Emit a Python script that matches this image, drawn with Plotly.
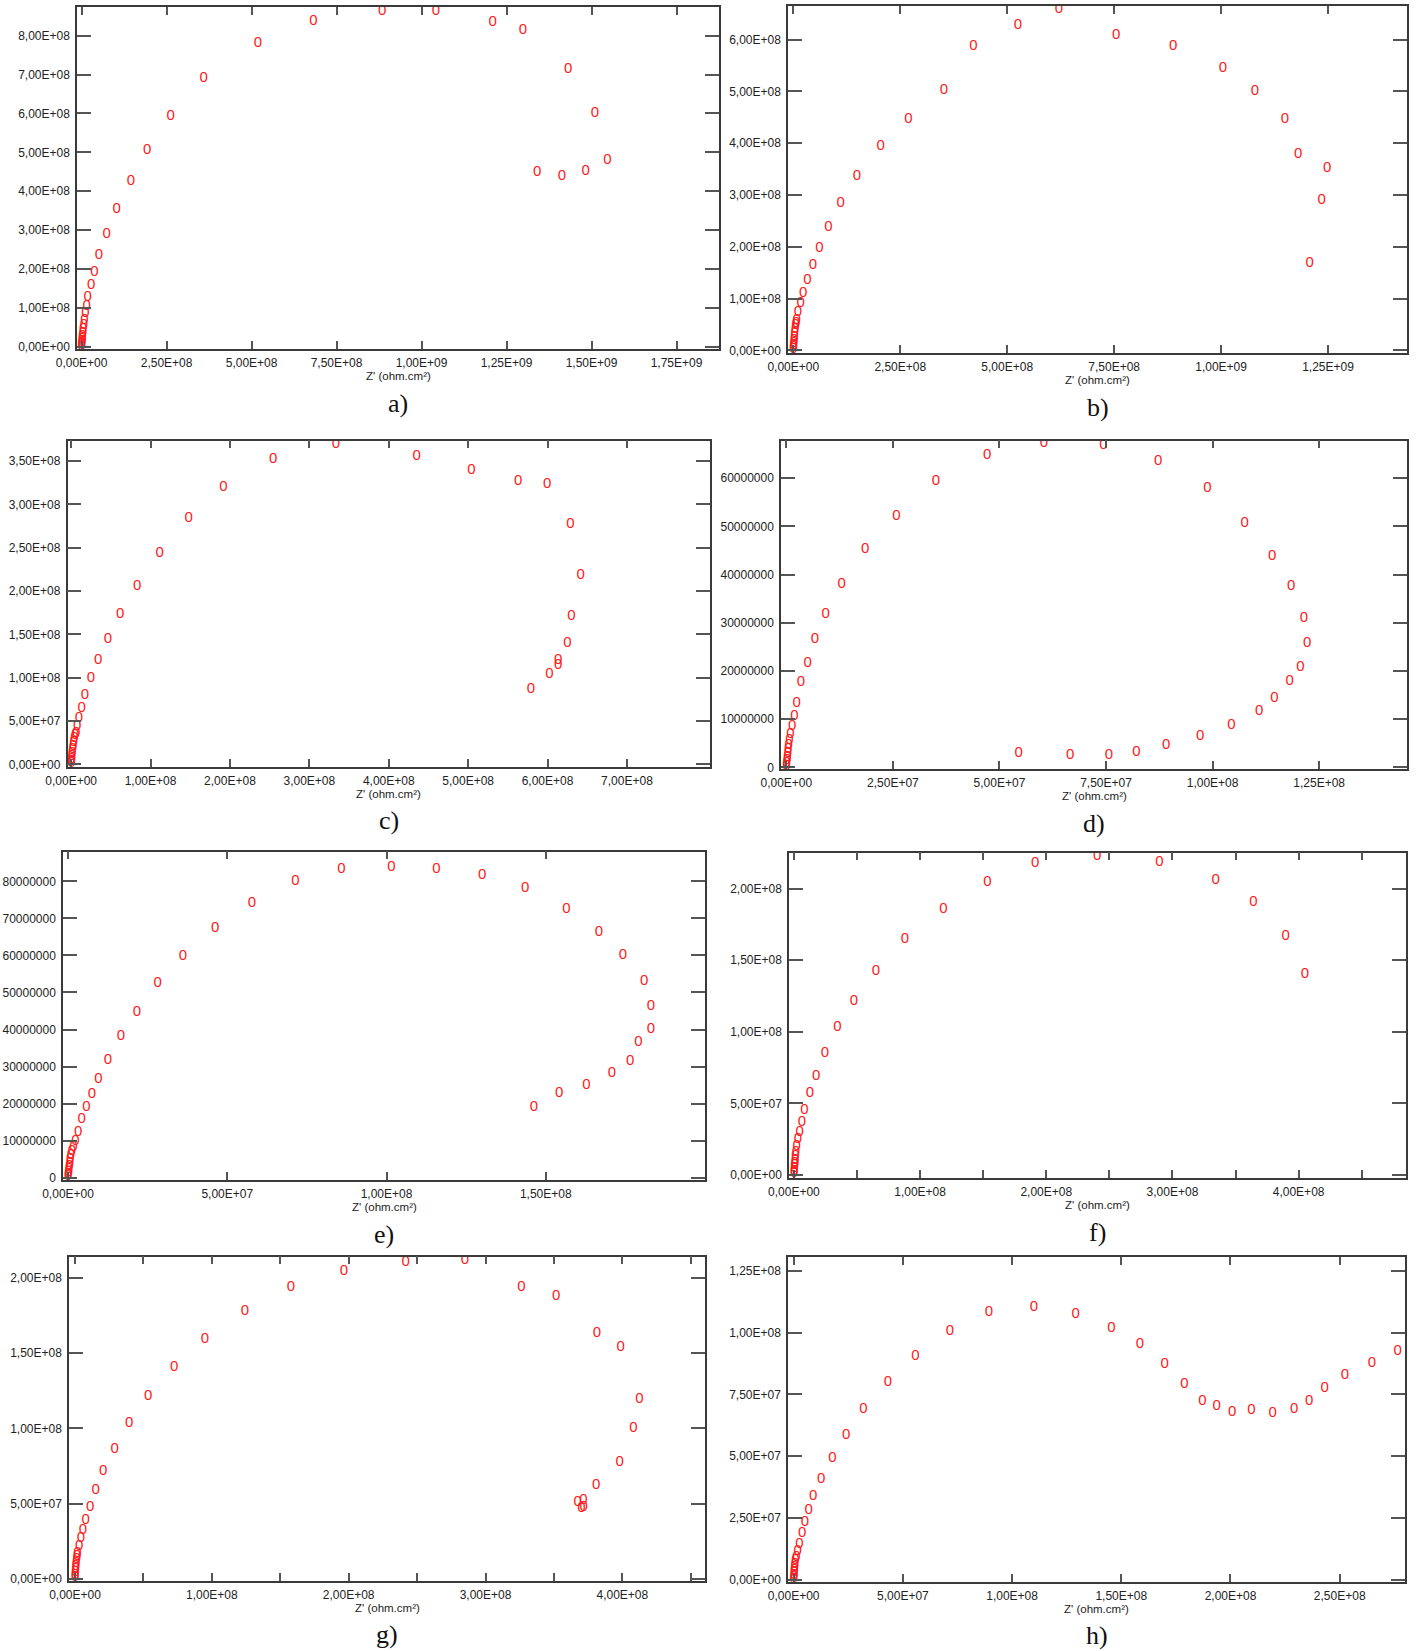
import plotly.graph_objects as go

# ---------------- data (Z' , -Z'') per panel ----------------
a_x = [2e5, 5e5, 9e5, 1.4e6, 2e6, 2.8e6, 3.8e6, 5e6, 6.5e6, 8.5e6, 1.1e7,
       1.5e7, 1.8e7, 2.8e7, 3.8e7, 5.1e7, 7.4e7, 1.03e8, 1.45e8, 1.93e8, 2.62e8, 3.59e8,
       5.19e8, 6.82e8, 8.84e8, 1.042e9, 1.209e9, 1.298e9, 1.431e9, 1.51e9, 1.547e9,
       1.483e9, 1.413e9, 1.34e9]
a_y = [2e6, 5e6, 9e6, 1.4e7, 2e7, 2.7e7, 3.5e7, 4.4e7, 5.5e7, 6.8e7, 8.5e7,
       1.05e8, 1.28e8, 1.57e8, 1.92e8, 2.36e8, 2.89e8, 3.53e8, 4.26e8, 5.06e8, 5.93e8, 6.9e8,
       7.8e8, 8.37e8, 8.62e8, 8.64e8, 8.34e8, 8.15e8, 7.14e8, 6.0e8, 4.79e8,
       4.52e8, 4.39e8, 4.49e8]

b_x = [2e5, 5e5, 9e5, 1.3e6, 1.8e6, 2.5e6, 3.3e6, 4.2e6, 5.3e6, 6.5e6,
       8e6, 1.1e7, 1.7e7, 2.3e7, 3.3e7, 4.6e7, 6.1e7, 8.2e7, 1.11e8, 1.49e8, 2.04e8,
       2.69e8, 3.52e8, 4.21e8, 5.25e8, 6.21e8, 7.55e8, 8.88e8, 1.004e9, 1.079e9,
       1.149e9, 1.18e9, 1.248e9, 1.235e9, 1.207e9]
b_y = [2e6, 5e6, 9e6, 1.4e7, 2e7, 2.6e7, 3.3e7, 4e7, 4.8e7, 5.3e7,
       5.9e7, 7.4e7, 9.0e7, 1.11e8, 1.35e8, 1.64e8, 1.98e8, 2.38e8, 2.85e8, 3.37e8, 3.95e8,
       4.46e8, 5.02e8, 5.88e8, 6.27e8, 6.585e8, 6.08e8, 5.88e8, 5.44e8, 5.01e8,
       4.46e8, 3.79e8, 3.52e8, 2.89e8, 1.69e8]

c_x = [2e5, 4e5, 7e5, 1e6, 1.4e6, 1.9e6, 2.5e6, 3.2e6, 4e6, 5e6,
       6.4e6, 7.5e6, 9.8e6, 1.33e7, 1.73e7, 2.49e7, 3.41e7, 4.62e7, 6.18e7, 8.32e7,
       1.116e8, 1.48e8, 1.919e8, 2.543e8, 3.335e8, 4.353e8, 5.04e8, 5.63e8, 5.994e8,
       6.289e8, 6.416e8, 6.3e8, 6.249e8, 6.133e8, 6.133e8, 6.023e8, 5.792e8]
c_y = [1e6, 3e6, 6e6, 9e6, 1.3e7, 1.7e7, 2.1e7, 2.6e7, 3e7, 3.3e7,
       3.58e7, 4.35e7, 5.27e7, 6.5e7, 8.0e7, 9.92e7, 1.2e8, 1.442e8, 1.735e8, 2.058e8,
       2.435e8, 2.842e8, 3.196e8, 3.519e8, 3.696e8, 3.554e8, 3.392e8, 3.265e8, 3.231e8,
       2.769e8, 2.185e8, 1.704e8, 1.392e8, 1.204e8, 1.142e8, 1.038e8, 8.62e7]

d_x = [5e4, 1e5, 1.8e5, 2.6e5, 3.5e5, 4.5e5, 5.6e5, 7e5,
       9.4e5, 1.35e6, 1.9e6, 2.4e6, 3.4e6, 5.0e6, 6.7e6, 9.2e6, 1.30e7, 1.85e7, 2.58e7,
       3.51e7, 4.71e7, 6.04e7, 7.44e7, 8.72e7, 9.88e7, 1.075e8, 1.14e8, 1.184e8, 1.214e8,
       1.222e8, 1.206e8, 1.181e8, 1.145e8, 1.109e8, 1.044e8, 9.71e7, 8.91e7, 8.21e7,
       7.57e7, 6.66e7, 5.45e7]
d_y = [3e5, 8e5, 1.4e6, 2.1e6, 2.9e6, 3.7e6, 4.6e6, 5.6e6,
       6.9e6, 8.6e6, 1.05e7, 1.33e7, 1.77e7, 2.17e7, 2.65e7, 3.18e7, 3.81e7, 4.53e7, 5.21e7,
       5.93e7, 6.47e7, 6.73e7, 6.69e7, 6.36e7, 5.79e7, 5.07e7, 4.38e7, 3.75e7, 3.1e7,
       2.57e7, 2.08e7, 1.79e7, 1.44e7, 1.17e7, 8.7e6, 6.4e6, 4.6e6, 3.2e6,
       2.4e6, 2.4e6, 2.9e6]

e_x = [5e4, 1e5, 2e5, 3e5, 4.2e5, 5.5e5, 7e5, 9e5, 1.2e6,
       1.7e6, 2.3e6, 3.2e6, 4.3e6, 5.8e6, 7.5e6, 9.5e6, 1.25e7, 1.66e7, 2.16e7, 2.81e7,
       3.61e7, 4.62e7, 5.77e7, 7.14e7, 8.58e7, 1.0154e8, 1.157e8, 1.30e8, 1.435e8,
       1.565e8, 1.667e8, 1.742e8, 1.809e8, 1.83e8, 1.83e8, 1.791e8, 1.765e8, 1.708e8,
       1.628e8, 1.542e8, 1.463e8]
e_y = [3e5, 8e5, 1.5e6, 2.3e6, 3.1e6, 4e6, 5e6, 6e6, 7e6,
       8.2e6, 9.9e6, 1.22e7, 1.58e7, 1.89e7, 2.26e7, 2.66e7, 3.18e7, 3.81e7, 4.47e7, 5.25e7,
       5.99e7, 6.72e7, 7.42e7, 8.0e7, 8.33e7, 8.39e7, 8.33e7, 8.16e7, 7.8e7,
       7.24e7, 6.63e7, 6.0e7, 5.29e7, 4.64e7, 4.0e7, 3.65e7, 3.15e7, 2.81e7,
       2.49e7, 2.28e7, 1.91e7]

f_x = [1e5, 2e5, 3.5e5, 5e5, 7e5, 9e5, 1.2e6, 1.6e6,
       2.1e6, 3.2e6, 4.6e6, 6.3e6, 8.4e6, 1.27e7, 1.76e7, 2.46e7, 3.44e7, 4.75e7, 6.5e7,
       8.79e7, 1.185e8, 1.533e8, 1.912e8, 2.404e8, 2.896e8, 3.343e8, 3.641e8, 3.898e8,
       4.049e8]
f_y = [1e6, 2.5e6, 4.5e6, 6.5e6, 8.5e6, 1.05e7, 1.3e7, 1.6e7,
       1.98e7, 2.49e7, 2.98e7, 3.68e7, 4.49e7, 5.68e7, 6.89e7, 8.5e7, 1.029e8, 1.215e8, 1.42e8,
       1.648e8, 1.856e8, 2.044e8, 2.177e8, 2.224e8, 2.184e8, 2.056e8, 1.905e8, 1.669e8,
       1.402e8]

g_x = [1e5, 2e5, 3.5e5, 5e5, 7e5, 9e5, 1.2e6, 1.5e6,
       1.7e6, 3.0e6, 4.4e6, 5.7e6, 7.7e6, 1.11e7, 1.51e7, 2.05e7, 2.89e7, 3.96e7, 5.34e7,
       7.25e7, 9.5e7, 1.242e8, 1.577e8, 1.966e8, 2.416e8, 2.849e8, 3.262e8, 3.517e8,
       3.815e8, 3.987e8, 4.124e8, 4.081e8, 3.98e8, 3.809e8, 3.674e8, 3.715e8, 3.701e8,
       3.718e8]
g_y = [1e6, 2.5e6, 4.5e6, 6.5e6, 8.5e6, 1.05e7, 1.3e7, 1.5e7,
       1.69e7, 2.17e7, 2.7e7, 3.24e7, 3.88e7, 4.77e7, 5.9e7, 7.12e7, 8.63e7, 1.033e8, 1.211e8,
       1.404e8, 1.592e8, 1.778e8, 1.938e8, 2.042e8, 2.104e8, 2.12e8, 1.942e8, 1.882e8,
       1.632e8, 1.539e8, 1.197e8, 1.004e8, 7.74e7, 6.21e7, 5.12e7, 5.21e7, 4.72e7,
       4.77e7]

h_x = [5e4, 1e5, 1.8e5, 2.6e5, 3.5e5, 4.5e5, 6e5, 8e5,
       1.2e6, 1.8e6, 2.6e6, 3.9e6, 5.1e6, 6.9e6, 8.9e6, 1.26e7, 1.77e7, 2.40e7, 3.19e7,
       4.31e7, 5.57e7, 7.15e7, 8.94e7, 1.10e8, 1.291e8, 1.455e8, 1.585e8, 1.699e8,
       1.789e8, 1.872e8, 1.937e8, 2.008e8, 2.096e8, 2.193e8, 2.291e8, 2.36e8, 2.431e8,
       2.524e8, 2.648e8, 2.766e8]
h_y = [5e5, 1.2e6, 2e6, 3e6, 4e6, 5.2e6, 6.5e6, 7.8e6,
       9.4e6, 1.17e7, 1.45e7, 1.89e7, 2.32e7, 2.8e7, 3.37e7, 4.08e7, 4.93e7, 5.87e7, 6.92e7,
       8.0e7, 9.05e7, 1.004e8, 1.082e8, 1.102e8, 1.072e8, 1.017e8, 9.52e7, 8.71e7,
       7.91e7, 7.23e7, 7.03e7, 6.79e7, 6.86e7, 6.73e7, 6.92e7, 7.21e7, 7.75e7,
       8.28e7, 8.76e7, 9.25e7]

# ---------------- tick values and labels ----------------
a_xtickvals = [0, 2.5e8, 5e8, 7.5e8, 1e9, 1.25e9, 1.5e9, 1.75e9]
a_xticktext = ["0,00E+00", "2,50E+08", "5,00E+08", "7,50E+08", "1,00E+09", "1,25E+09", "1,50E+09", "1,75E+09"]
a_ytickvals = [0, 1e8, 2e8, 3e8, 4e8, 5e8, 6e8, 7e8, 8e8]
a_yticktext = ["0,00E+00", "1,00E+08", "2,00E+08", "3,00E+08", "4,00E+08", "5,00E+08", "6,00E+08", "7,00E+08", "8,00E+08"]

b_xtickvals = [0, 2.5e8, 5e8, 7.5e8, 1e9, 1.25e9]
b_xticktext = ["0,00E+00", "2,50E+08", "5,00E+08", "7,50E+08", "1,00E+09", "1,25E+09"]
b_ytickvals = [0, 1e8, 2e8, 3e8, 4e8, 5e8, 6e8]
b_yticktext = ["0,00E+00", "1,00E+08", "2,00E+08", "3,00E+08", "4,00E+08", "5,00E+08", "6,00E+08"]

c_xtickvals = [0, 1e8, 2e8, 3e8, 4e8, 5e8, 6e8, 7e8]
c_xticktext = ["0,00E+00", "1,00E+08", "2,00E+08", "3,00E+08", "4,00E+08", "5,00E+08", "6,00E+08", "7,00E+08"]
c_ytickvals = [0, 5e7, 1e8, 1.5e8, 2e8, 2.5e8, 3e8, 3.5e8]
c_yticktext = ["0,00E+00", "5,00E+07", "1,00E+08", "1,50E+08", "2,00E+08", "2,50E+08", "3,00E+08", "3,50E+08"]

d_xtickvals = [0, 2.5e7, 5e7, 7.5e7, 1e8, 1.25e8]
d_xticktext = ["0,00E+00", "2,50E+07", "5,00E+07", "7,50E+07", "1,00E+08", "1,25E+08"]
d_ytickvals = [0, 1e7, 2e7, 3e7, 4e7, 5e7, 6e7]
d_yticktext = ["0", "10000000", "20000000", "30000000", "40000000", "50000000", "60000000"]

e_xtickvals = [0, 5e7, 1e8, 1.5e8]
e_xticktext = ["0,00E+00", "5,00E+07", "1,00E+08", "1,50E+08"]
e_ytickvals = [0, 1e7, 2e7, 3e7, 4e7, 5e7, 6e7, 7e7, 8e7]
e_yticktext = ["0", "10000000", "20000000", "30000000", "40000000", "50000000", "60000000", "70000000", "80000000"]

f_xtickvals = [0, 5e7, 1e8, 1.5e8, 2e8, 2.5e8, 3e8, 3.5e8, 4e8, 4.5e8]
f_xticktext = ["0,00E+00", "", "1,00E+08", "", "2,00E+08", "", "3,00E+08", "", "4,00E+08", ""]
f_ytickvals = [0, 5e7, 1e8, 1.5e8, 2e8]
f_yticktext = ["0,00E+00", "5,00E+07", "1,00E+08", "1,50E+08", "2,00E+08"]

g_xtickvals = [0, 5e7, 1e8, 1.5e8, 2e8, 2.5e8, 3e8, 3.5e8, 4e8, 4.5e8]
g_xticktext = ["0,00E+00", "", "1,00E+08", "", "2,00E+08", "", "3,00E+08", "", "4,00E+08", ""]
g_ytickvals = [0, 5e7, 1e8, 1.5e8, 2e8]
g_yticktext = ["0,00E+00", "5,00E+07", "1,00E+08", "1,50E+08", "2,00E+08"]

h_xtickvals = [0, 5e7, 1e8, 1.5e8, 2e8, 2.5e8]
h_xticktext = ["0,00E+00", "5,00E+07", "1,00E+08", "1,50E+08", "2,00E+08", "2,50E+08"]
h_ytickvals = [0, 2.5e7, 5e7, 7.5e7, 1e8, 1.25e8]
h_yticktext = ["0,00E+00", "2,50E+07", "5,00E+07", "7,50E+07", "1,00E+08", "1,25E+08"]

panel_labels = ["a)", "b)", "c)", "d)", "e)", "f)", "g)", "h)"]
x_title = "Z' (ohm.cm²)"
point_glyph = "0"

# ---------------- layout geometry (pixels) ----------------
W, H = 1416, 1651
rects = [  # left, right, top, bottom
    (77, 719, 7, 349), (788, 1407, 6, 353),
    (67.5, 710, 440.7, 766.7), (781, 1407, 440.7, 769),
    (63, 705, 851.7, 1180), (789, 1406, 852.7, 1178),
    (69, 705, 1256.7, 1580.7), (788, 1405, 1257.3, 1581.7),
]
xranges = [(-1.35e7, 1.875e9), (-1.24e7, 1.4346e9), (-4.6e6, 8.046e8), (-1.25e6, 1.456e8),
           (-1.59e6, 2.0e8), (-3.9e6, 4.851e8), (-4.4e6, 4.604e8), (-2.6e6, 2.799e8)]
yranges = [(-6e6, 8.74e8), (-5.2e6, 6.65e8), (-2.7e6, 3.735e8), (-3.5e5, 6.78e7),
           (-6.3e5, 8.80e7), (-2.1e6, 2.2515e8), (-1.3e6, 2.142e8), (-6.7e5, 1.304e8)]

panels = [
    (a_x, a_y, a_xtickvals, a_xticktext, a_ytickvals, a_yticktext),
    (b_x, b_y, b_xtickvals, b_xticktext, b_ytickvals, b_yticktext),
    (c_x, c_y, c_xtickvals, c_xticktext, c_ytickvals, c_yticktext),
    (d_x, d_y, d_xtickvals, d_xticktext, d_ytickvals, d_yticktext),
    (e_x, e_y, e_xtickvals, e_xticktext, e_ytickvals, e_yticktext),
    (f_x, f_y, f_xtickvals, f_xticktext, f_ytickvals, f_yticktext),
    (g_x, g_y, g_xtickvals, g_xticktext, g_ytickvals, g_yticktext),
    (h_x, h_y, h_xtickvals, h_xticktext, h_ytickvals, h_yticktext),
]

SANS = "Liberation Sans Narrow, Arial Narrow, Liberation Sans, Arial, sans-serif"
TICKFONT = dict(family=SANS, size=12, color="#222222")
MARKFONT = dict(family=SANS, size=15, color="#ff1a1a")

fig = go.Figure()
layout = dict(width=W, height=H, margin=dict(l=0, r=0, t=0, b=0, autoexpand=False),
              paper_bgcolor="white", plot_bgcolor="white", showlegend=False,
              annotations=[])

for i, (px, py, xtv, xtt, ytv, ytt) in enumerate(panels):
    n = "" if i == 0 else str(i + 1)
    L, R, T, B = rects[i]
    fig.add_trace(go.Scatter(
        x=px, y=py, mode="text", text=[point_glyph] * len(px),
        textposition="middle center", textfont=MARKFONT,
        xaxis="x" + n, yaxis="y" + n, cliponaxis=True, hoverinfo="x+y"))
    common = dict(showline=True, linecolor="#3a3a3a", linewidth=1.5, mirror="ticks",
                  ticks="inside", tickcolor="#555555", tickwidth=1.5, automargin=False,
                  showgrid=False, zeroline=False, tickfont=TICKFONT, fixedrange=True)
    layout["xaxis" + n] = dict(common, domain=[L / W, R / W], range=list(xranges[i]),
                               anchor="y" + n, tickmode="array", tickvals=xtv, ticktext=xtt,
                               ticklen=8, ticklabelstandoff=2)
    layout["yaxis" + n] = dict(common, domain=[1 - B / H, 1 - T / H], range=list(yranges[i]),
                               anchor="x" + n, tickmode="array", tickvals=ytv, ticktext=ytt,
                               ticklen=14, ticklabelstandoff=3)
    cx = (L + R) / 2 / W
    layout["annotations"].append(dict(
        text=x_title, x=cx, y=1 - (B + 27) / H, xref="paper", yref="paper",
        xanchor="center", yanchor="middle", showarrow=False,
        font=dict(family=SANS, size=11.5, color="#222222")))
    layout["annotations"].append(dict(
        text=panel_labels[i], x=cx, y=1 - (B + 54) / H, xref="paper", yref="paper",
        xanchor="center", yanchor="middle", showarrow=False,
        font=dict(family="Liberation Serif, Times New Roman, serif", size=26, color="#111111")))

fig.update_layout(**layout)
fig.write_html("out.html", config={"displayModeBar": False},
               post_script="document.body.style.margin='0';document.body.style.padding='0';")
